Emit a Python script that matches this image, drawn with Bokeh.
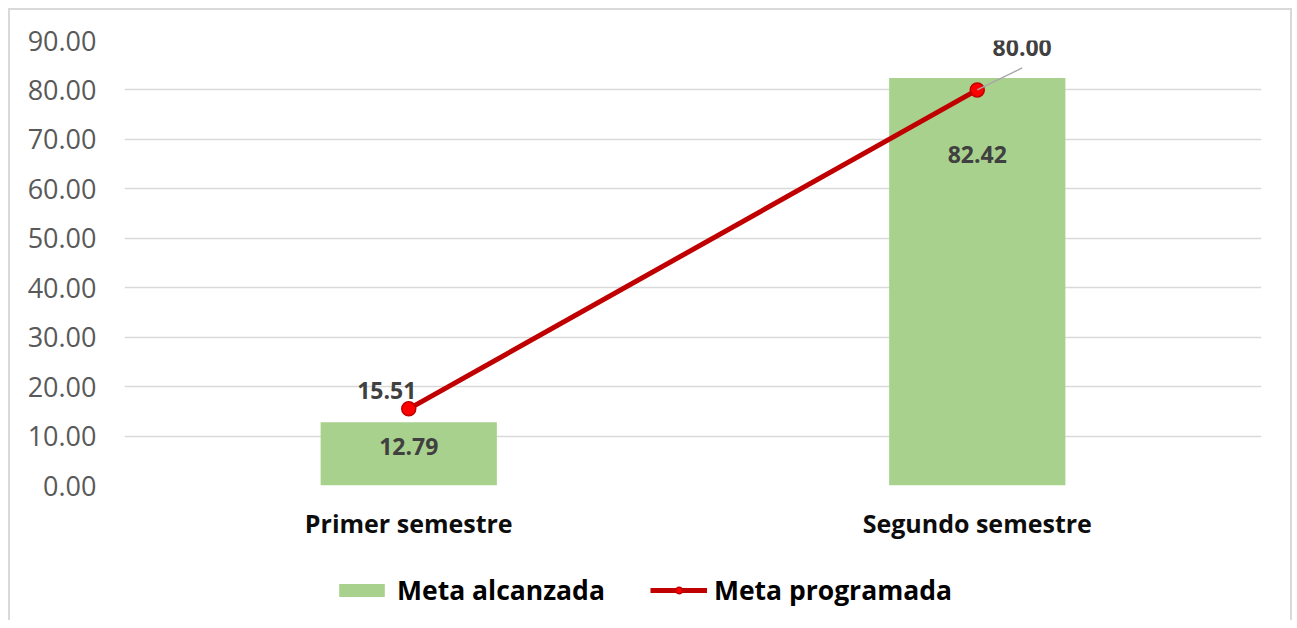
from bokeh.plotting import figure
from bokeh.layouts import column
from bokeh.models import (FactorRange, Range1d, Legend, LegendItem, FixedTicker,
                          NumeralTickFormatter, ColumnDataSource)
from bokeh.transform import dodge
from bokeh.core.properties import value
from bokeh.embed import file_html
from bokeh.resources import INLINE

# ---- data ----
categories = ["Primer semestre", "Segundo semestre"]
meta_alcanzada = [12.79, 82.42]
meta_programada = [15.51, 80.00]
y_ticks = [0, 10, 20, 30, 40, 50, 60, 70, 80, 90]
series_names = ["Meta alcanzada", "Meta programada"]

FONT = "Open Sans"
GREEN = "#A9D18E"
RED = "#C00000"

src = ColumnDataSource(dict(
    cat=categories,
    alc=meta_alcanzada,
    prog=meta_programada,
    alc_txt=[f"{v:.2f}" for v in meta_alcanzada],
))
src.data["lab_dy"] = [24, 77]  # label placement inside bars (px)

p = figure(x_range=FactorRange(*categories), y_range=Range1d(0, 90),
           width=1280, height=540, output_backend="svg", toolbar_location=None,
           min_border_left=114, min_border_right=29, min_border_top=30,
           min_border_bottom=65)
p.outline_line_color = None
p.xgrid.grid_line_color = None
p.ygrid.grid_line_color = "#D9D9D9"
p.ygrid.grid_line_width = 1.5
p.ygrid.ticker = FixedTicker(ticks=y_ticks)

p.yaxis.ticker = FixedTicker(ticks=y_ticks)
p.yaxis.formatter = NumeralTickFormatter(format="0.00")
p.yaxis.axis_line_color = None
p.yaxis.major_tick_line_color = None
p.yaxis.minor_tick_line_color = None
p.yaxis.major_label_text_font = FONT
p.yaxis.major_label_text_font_size = "27px"
p.yaxis.major_label_text_color = "#595959"
p.yaxis.major_label_standoff = 22

p.xaxis.axis_line_color = None
p.xaxis.major_tick_line_color = None
p.xaxis.major_label_text_font = FONT
p.xaxis.major_label_text_font_size = "25px"
p.xaxis.major_label_text_font_style = "bold"
p.xaxis.major_label_text_color = "#0D0D0D"
p.xaxis.major_label_standoff = 14

p.vbar(x="cat", top="alc", width=0.31, source=src,
       fill_color=GREEN, line_color=None)
p.line(x="cat", y="prog", source=src, line_width=5, line_color=RED)
p.scatter(x="cat", y="prog", source=src, size=14, fill_color="#FF0000",
          line_color=RED, line_width=1.5)

# bar labels (inside bars)
p.text(x="cat", y="alc", text="alc_txt", source=src, y_offset="lab_dy",
       text_align="center", text_baseline="middle", text_font=value(FONT),
       text_font_style="bold", text_font_size="23px", text_color="#404040")

# line labels
lsrc = ColumnDataSource(dict(cat=categories[:1], prog=meta_programada[:1],
                             prog_txt=[f"{meta_programada[0]:.2f}"]))
p.text(x="cat", y="prog", text="prog_txt", source=lsrc, x_offset=-22, y_offset=-18,
       text_align="center", text_baseline="middle", text_font=value(FONT),
       text_font_style="bold", text_font_size="23px", text_color="#404040")

ld_src = ColumnDataSource(dict(cat=categories[1:], prog=meta_programada[1:],
                               y1=[meta_programada[1] + 4.45],
                               prog_txt=[f"{meta_programada[1]:.2f}"]))
p.segment(x0="cat", y0="prog", x1=dodge("cat", 0.079, range=p.x_range), y1="y1",
          source=ld_src, line_color="#A6A6A6", line_width=1.5)
p.text(x=dodge("cat", 0.079, range=p.x_range), y="y1", text="prog_txt", source=ld_src,
       y_offset=-20, text_align="center", text_baseline="middle", text_font=value(FONT),
       text_font_style="bold", text_font_size="23px", text_color="#404040")

# ---- legend strip (separate figure below the chart; its series lie out of view) ----
lg = figure(width=1280, height=70, output_backend="svg", toolbar_location=None,
            x_range=FactorRange(*categories), y_range=Range1d(1000, 1001),
            x_axis_location=None, y_axis_location=None,
            min_border_left=0, min_border_right=0, min_border_top=0, min_border_bottom=0)
lg.outline_line_color = None
lg.grid.grid_line_color = None
r_bar = lg.vbar(x="cat", top="alc", width=0.31, source=src,
                fill_color=GREEN, line_color=None)
r_line = lg.line(x="cat", y="prog", source=src, line_width=5, line_color=RED)
r_pt = lg.scatter(x="cat", y="prog", source=src, size=14, fill_color="#FF0000",
                  line_color=RED, line_width=1.5)

legend = Legend(items=[LegendItem(label=series_names[0], renderers=[r_bar]),
                       LegendItem(label=series_names[1], renderers=[r_line, r_pt])],
                orientation="horizontal", location=(209, 12),
                border_line_color=None, background_fill_alpha=0,
                label_text_font=FONT, label_text_font_size="26.5px",
                label_text_font_style="bold", label_text_color="#000000",
                glyph_width=57, glyph_height=16, spacing=45, label_standoff=7,
                margin=0, padding=6)
lg.add_layout(legend, "center")

layout = column(p, lg, spacing=0,
                styles={"border-top": "2px solid #D9D9D9",
                        "border-left": "2px solid #D9D9D9",
                        "border-right": "2px solid #D9D9D9",
                        "margin-left": "8px", "margin-top": "8px"})

open("out.html", "w").write(file_html(layout, INLINE))
